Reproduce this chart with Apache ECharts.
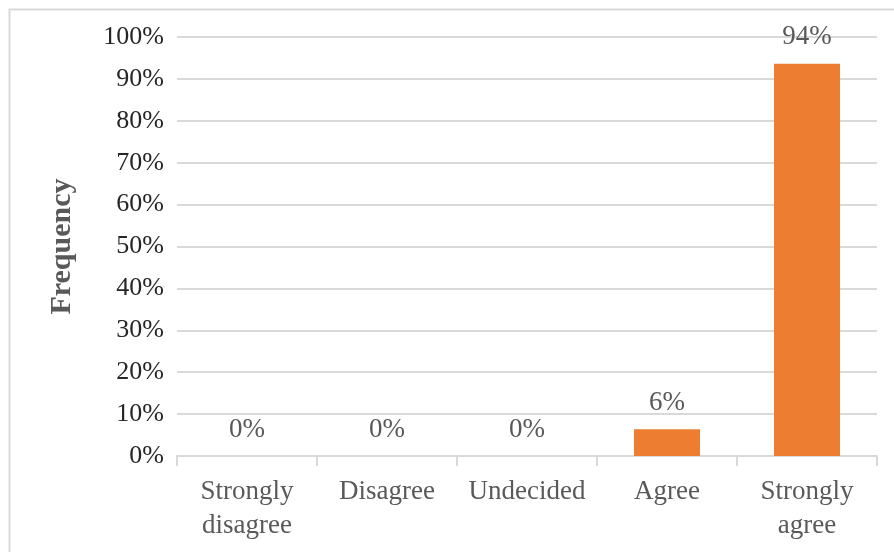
<!DOCTYPE html>
<html>
<head>
<meta charset="utf-8">
<script src="https://cdn.jsdelivr.net/npm/echarts@6/dist/echarts.min.js"></script>
<style>
html,body{margin:0;padding:0;background:#fff;}
#c{width:894px;height:552px;}
</style>
</head>
<body>
<div id="c"></div>
<script>
var categories = ['Strongly\ndisagree', 'Disagree', 'Undecided', 'Agree', 'Strongly\nagree'];
var values = [0, 0, 0, 6.4, 93.6];
var yTicks = [0, 10, 20, 30, 40, 50, 60, 70, 80, 90, 100];

var chart = echarts.init(document.getElementById('c'));
var font = 'Liberation Serif';
chart.setOption({
  animation: false,
  backgroundColor: '#fff',
  graphic: [{
    type: 'rect',
    left: 7, top: 7,
    shape: {width: 1000, height: 700},
    style: {fill: 'none', stroke: '#d9d9d9', lineWidth: 2},
    silent: true
  }],
  grid: {left: 177, right: 17, top: 37, bottom: 96, containLabel: false},
  xAxis: {
    type: 'category',
    data: categories,
    axisLine: {show: true, lineStyle: {color: '#d9d9d9', width: 2}},
    axisTick: {show: true, length: 10, alignWithLabel: false, lineStyle: {color: '#d9d9d9', width: 2}},
    axisLabel: {fontFamily: font, fontSize: 27, color: '#595959', lineHeight: 34, margin: 19, interval: 0}
  },
  yAxis: {
    type: 'value',
    min: yTicks[0], max: yTicks[yTicks.length - 1], interval: 10,
    name: 'Frequency',
    nameLocation: 'middle',
    nameGap: 100,
    nameRotate: 90,
    nameTextStyle: {fontFamily: font, fontSize: 30, fontWeight: 'bold', color: '#595959'},
    axisLine: {show: false},
    axisTick: {show: false},
    splitLine: {lineStyle: {color: '#d9d9d9', width: 2}},
    axisLabel: {fontFamily: font, fontSize: 26, color: '#262626', margin: 13,
      formatter: function (v) { return v + '%'; }}
  },
  series: [{
    type: 'bar',
    data: values,
    barWidth: 66,
    itemStyle: {color: '#ED7D31'},
    label: {
      show: true, position: 'top', distance: 13,
      fontFamily: font, fontSize: 27, color: '#595959',
      formatter: function (p) { return Math.round(p.value) + '%'; }
    }
  }]
});
</script>
</body>
</html>
